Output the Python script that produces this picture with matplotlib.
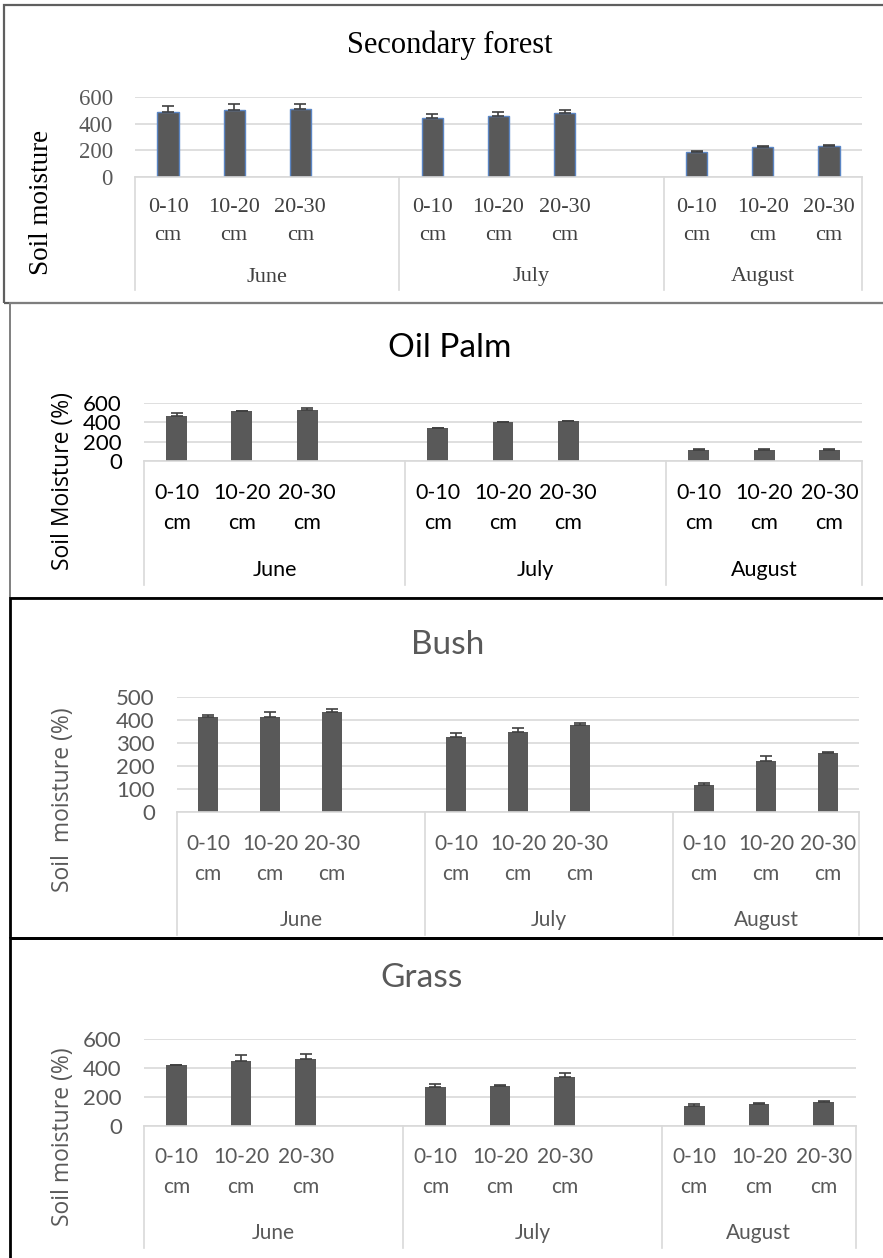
import matplotlib
matplotlib.use("Agg")
import matplotlib.pyplot as plt
from matplotlib.lines import Line2D
from matplotlib.patches import Rectangle

W, H = 883, 1258
DPI = 100

# ---- data ----
months = ["June", "July", "August"]
depths = ["0-10", "10-20", "20-30"]
unit = "cm"

forest_vals = [491, 504, 511, 443, 461, 481, 191, 222, 234]
forest_err = [38, 45, 38, 28, 30, 20, 2, 7, 8]

palm_vals = [469, 514, 524, 340, 399, 413, 118, 115, 115]
palm_err = [28, 5, 25, 6, 3, 5, 4, 4, 4]

bush_vals = [411, 414, 436, 328, 350, 379, 117, 222, 255]
bush_err = [12, 19, 13, 16, 16, 10, 7, 20, 4]

grass_vals = [418, 446, 462, 269, 278, 338, 136, 154, 166]
grass_err = [3, 41, 35, 23, 3, 25, 16, 3, 3]

# slot positions: three depths per month, one empty slot between months
xpos = [0, 1, 2, 4, 5, 6, 8, 9, 10]
month_mid = [1.5, 5.5, 9.0]
seps = [-0.5, 3.5, 7.5, 10.5]

fig = plt.figure(figsize=(W / DPI, H / DPI), dpi=DPI)


def fy(y):
    return 1 - y / H


def panel(vals, err, title, ylabel, ymax, ystep, geo, style):
    left, right, ytop, yzero, ybot, row1, row2, month_y, tx, ty, lx, ly = geo
    ax = fig.add_axes([left / W, fy(yzero), (right - left) / W, (yzero - ytop) / H])
    ax.set_xlim(-0.5, 10.5)
    ax.set_ylim(0, ymax)
    ax.set_yticks(range(0, ymax + 1, ystep))
    ax.yaxis.grid(True, color="#d9d9d9", lw=1.2)
    ax.set_axisbelow(True)
    for s in ax.spines.values():
        s.set_visible(False)
    ax.tick_params(length=0, labelsize=style["tick"], colors=style["tcol"], pad=16)
    for t in ax.get_yticklabels():
        t.set_fontfamily(style["font"])
    ax.set_xticks([])

    ax.bar(xpos, vals, width=0.32, color="#595959",
           edgecolor=style["edge"], linewidth=style["elw"], zorder=2)
    ax.errorbar(xpos, vals, yerr=[[0] * len(err), err], fmt="none",
                ecolor="#404040", elinewidth=1.2, capsize=4.5, capthick=1.2, zorder=3)

    # multi-level category box below the axis
    frac = lambda y: (yzero - y) / (yzero - ytop)
    tr = ax.get_xaxis_transform()
    ax.add_line(Line2D([-0.5, 10.5], [0, 0], transform=tr, color="#d9d9d9",
                       lw=1.2, clip_on=False))
    for s in seps:
        ax.add_line(Line2D([s, s], [0, frac(ybot)], transform=tr, color="#d9d9d9",
                           lw=1.2, clip_on=False))
    txt = dict(transform=tr, ha="center", va="center", fontsize=style["cat"],
               color=style["ccol"], family=style["font"])
    for x, lab in zip(xpos, depths * 3):
        ax.text(x, frac(row1), lab, **txt)
        ax.text(x, frac(row2), unit, **txt)
    for x, m in zip(month_mid, months):
        ax.text(x, frac(month_y), m, **txt)

    fig.text(tx / W, fy(ty), title, ha="center", va="center", fontsize=style["title"],
             color=style["titcol"], family=style["font"])
    fig.text(lx / W, fy(ly), ylabel, ha="center", va="center", rotation=90,
             fontsize=style["ylab"], color=style["ycol"], family=style["yfont"],
             fontweight=style["yw"])
    return ax


serif = dict(font="Liberation Serif", tick=16.5, tcol="#595959", cat=16, ccol="#404040",
             title=22, titcol="#000000", ylab=19.5, ycol="#000000",
             yfont="Liberation Serif", yw="normal", edge="#5b86c5", elw=1.0)
calib_black = dict(font="Lato", tick=16, tcol="#000000", cat=15.5, ccol="#000000",
                   title=24, titcol="#000000", ylab=16.5, ycol="#000000",
                   yfont="Open Sans", yw="normal", edge="#595959", elw=0)
calib_gray = dict(calib_black, cat=15, tcol="#595959", ccol="#595959",
                  titcol="#595959", ycol="#595959")

# geometry in pixels: left, right, y(top tick), y(zero), box bottom, depth row,
# cm row, month row, title x, title y, ylabel x, ylabel y
panel(forest_vals, forest_err, "Secondary forest", "Soil moisture", 600, 200,
      (135, 862, 97, 177, 290, 207, 236, 277, 450, 45, 42, 202), serif)
panel(palm_vals, palm_err, "Oil Palm", "Soil Moisture (%)", 600, 200,
      (144, 862, 403, 461, 585, 493, 523, 570, 450, 348, 63, 481), calib_black)
panel(bush_vals, bush_err, "Bush", "Soil  moisture (%)", 500, 100,
      (177, 859, 697, 812, 935, 844, 874, 920, 448, 645, 63, 800), calib_gray)
panel(grass_vals, grass_err, "Grass", "Soil moisture (%)", 600, 200,
      (144, 856, 1039, 1126, 1248, 1157, 1187, 1233, 422, 978, 63, 1137), calib_gray)


# panel frames
def frame(x0, y0, x1, y1, color, lw):
    fig.add_artist(Rectangle((x0 / W, fy(y1)), (x1 - x0) / W, (y1 - y0) / H,
                             transform=fig.transFigure, fill=False, edgecolor=color,
                             linewidth=lw, zorder=10))


frame(4, 5, 900, 303, "#5f5f5f", 1.6)
frame(10, 303, 900, 598, "#7f7f7f", 1.4)
frame(10, 598, 900, 938, "black", 2.0)
frame(10, 938, 900, 1300, "black", 2.0)

fig.savefig("out.png", dpi=DPI)
